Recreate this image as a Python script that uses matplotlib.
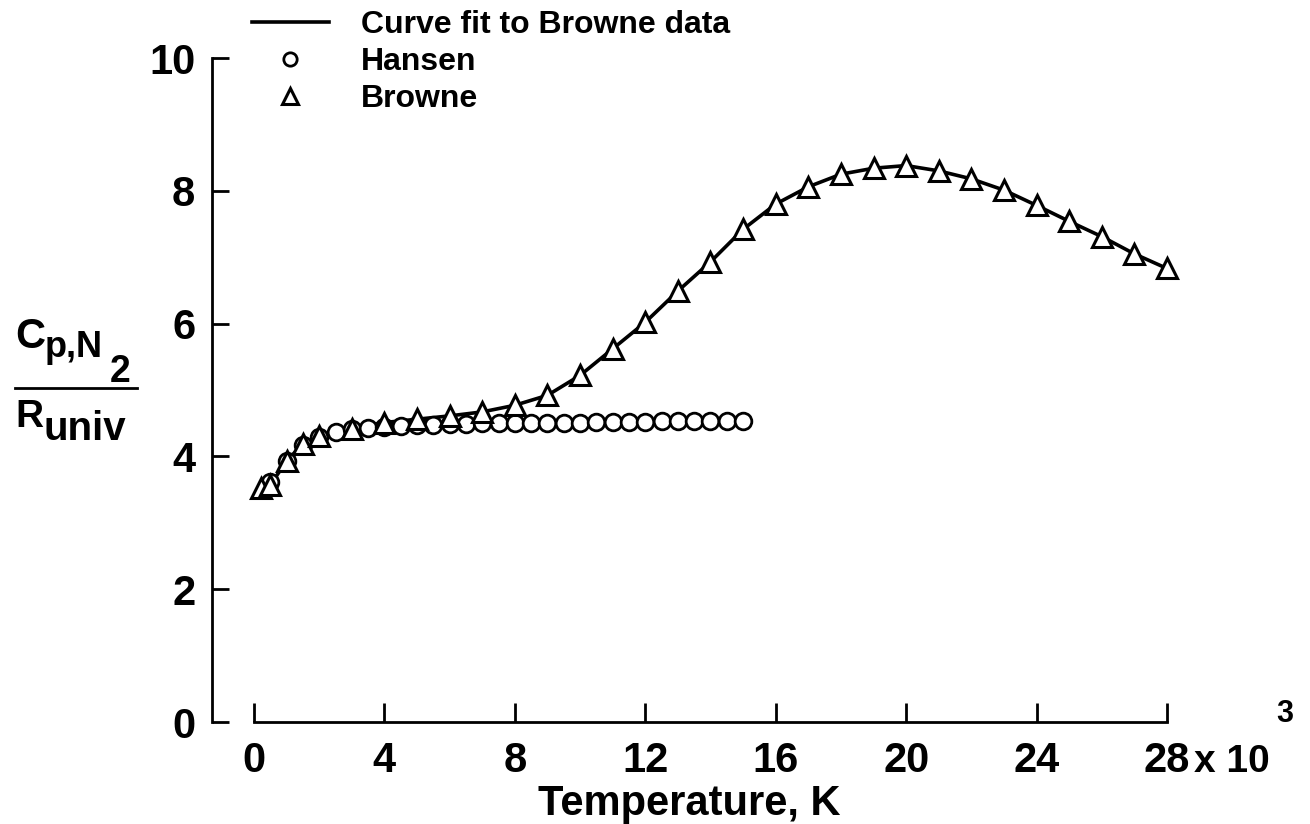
import matplotlib.pyplot as plt
from matplotlib.lines import Line2D

plt.rcParams['font.family'] = ['Liberation Sans', 'DejaVu Sans']
plt.rcParams['font.weight'] = 'bold'
plt.rcParams['axes.labelweight'] = 'bold'

# Browne data (curve fit drawn through the same points)
browne_t = [200, 500, 1000, 1500, 2000, 3000, 4000, 5000, 6000, 7000, 8000, 9000,
            10000, 11000, 12000, 13000, 14000, 15000, 16000, 17000, 18000, 19000,
            20000, 21000, 22000, 23000, 24000, 25000, 26000, 27000, 28000]
browne_cp = [3.52, 3.57, 3.93, 4.19, 4.31, 4.42, 4.51, 4.56, 4.61, 4.67, 4.77, 4.92,
             5.22, 5.62, 6.02, 6.49, 6.93, 7.42, 7.80, 8.06, 8.25, 8.34,
             8.38, 8.30, 8.18, 8.01, 7.78, 7.54, 7.31, 7.05, 6.83]

# Hansen data
hansen_t = [500, 1000, 1500, 2000, 2500, 3000, 3500, 4000, 4500, 5000, 5500, 6000,
            6500, 7000, 7500, 8000, 8500, 9000, 9500, 10000, 10500, 11000, 11500,
            12000, 12500, 13000, 13500, 14000, 14500, 15000]
hansen_cp = [3.62, 3.93, 4.17, 4.29, 4.36, 4.41, 4.43, 4.45, 4.46, 4.47, 4.48, 4.49,
             4.49, 4.50, 4.50, 4.50, 4.51, 4.51, 4.51, 4.51, 4.52, 4.52, 4.52,
             4.52, 4.53, 4.53, 4.53, 4.54, 4.54, 4.54]

x_ticks = [0, 4000, 8000, 12000, 16000, 20000, 24000, 28000]
x_labels = ['0', '4', '8', '12', '16', '20', '24', '28']
y_ticks = [0, 2, 4, 6, 8, 10]

W, H = 1310, 824


def fxy(x, y):
    # pixel (from top-left) -> figure fraction
    return x / W, 1 - y / H


fig = plt.figure(figsize=(W / 100, H / 100), dpi=100)
ax = fig.add_axes([212 / W, 102 / H, 955 / W, 664 / H])

ax.plot(browne_t, browne_cp, color='black', lw=2.6, label='Curve fit to Browne data',
        zorder=2, clip_on=False)
ax.plot(hansen_t, hansen_cp, ls='none', marker='o', ms=12, mfc='white', mec='black',
        mew=2.0, label='Hansen', zorder=3, clip_on=False)
ax.plot(browne_t, browne_cp, ls='none', marker='^', ms=15, mfc='white', mec='black',
        mew=2.2, label='Browne', zorder=4, clip_on=False)

ax.set_xlim(-1288, 28000)
ax.set_ylim(0, 10)
for s in ['top', 'right']:
    ax.spines[s].set_visible(False)
ax.spines['left'].set_bounds(0, 10)
ax.spines['bottom'].set_bounds(0, 28000)
ax.spines['left'].set_linewidth(2)
ax.spines['bottom'].set_linewidth(2)

ax.set_xticks(x_ticks)
ax.set_xticklabels(x_labels)
ax.set_yticks(y_ticks)
ax.tick_params(axis='y', direction='in', length=12, width=2, pad=12, labelsize=30)
ax.tick_params(axis='x', direction='in', length=14, width=2, pad=14, labelsize=30)
ax.set_xlabel('Temperature, K', fontsize=30, labelpad=2)

# "x 10^3" multiplier next to the last tick label
fig.text(*fxy(1194, 772), 'x 10', fontsize=28, va='baseline', ha='left')
fig.text(*fxy(1276, 722), '3', fontsize=22, va='baseline', ha='left')

# y label as a fraction
fig.text(*fxy(15, 348), 'C', fontsize=30, va='baseline')
fig.text(*fxy(45, 357), 'p,N', fontsize=26, va='baseline')
fig.text(*fxy(110, 382), '2', fontsize=27, va='baseline')
fig.add_artist(Line2D([15 / W, 137 / W], [1 - 388 / H, 1 - 388 / H], color='black', lw=2))
fig.text(*fxy(15, 427), 'R', fontsize=28, va='baseline')
fig.text(*fxy(44, 440), 'univ', fontsize=29, va='baseline')

fig.legend(loc='upper left', bbox_to_anchor=fxy(252, 10), frameon=False, fontsize=23,
           handlelength=2.4, handletextpad=1.0, labelspacing=0.22, borderaxespad=0,
           borderpad=0, markerscale=0.8)

fig.savefig('out.png', dpi=100)
